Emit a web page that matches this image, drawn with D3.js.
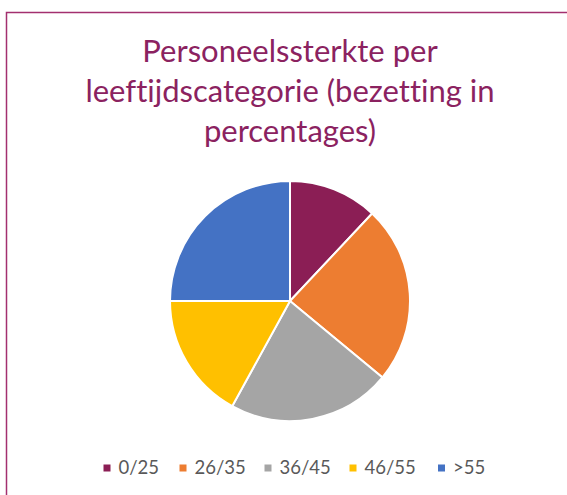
<!DOCTYPE html>
<html><head><meta charset="utf-8">
<script src="https://cdn.jsdelivr.net/npm/d3@7"></script>
<style>body{margin:0;background:#fff;}svg{display:block;}text{font-variant-ligatures:none;font-feature-settings:"liga" 0;}</style>
</head><body>
<script>
const categories = ["0/25","26/35","36/45","46/55",">55"];
const values = [12,24,22,17,25];
const colors = ["#8B1E55","#ED7D31","#A5A5A5","#FFC000","#4472C4"];
const titleLines = ["Personeelssterkte per","leeftijdscategorie (bezetting in","percentages)"];

const W=567,H=495;
const svg=d3.select("body").append("svg").attr("width",W).attr("height",H);
svg.append("rect").attr("x",6.5).attr("y",12.5).attr("width",W+20).attr("height",H+20)
  .attr("fill","#fff").attr("stroke","#A3306F").attr("stroke-width",1.5);

const font="Lato, 'Open Sans', sans-serif";
svg.append("g").selectAll("text").data(titleLines).join("text")
  .attr("x",290).attr("y",(d,i)=>62+i*40)
  .attr("text-anchor","middle").attr("font-family",font).attr("font-size",31)
  .attr("fill","#8B2260").text(d=>d);

const cx=290, cy=301, r=120;
const pie=d3.pie().sort(null).value(d=>d)(values);
const arc=d3.arc().innerRadius(0).outerRadius(r);
const color=d3.scaleOrdinal().domain(categories).range(colors);
svg.append("g").attr("transform",`translate(${cx},${cy})`).selectAll("path").data(pie).join("path")
  .attr("d",arc).attr("fill",(d,i)=>color(categories[i])).attr("stroke","#fff").attr("stroke-width",2);

const legendX=[103.5,179.5,264.5,349.5,438];
const lg=svg.append("g").selectAll("g").data(categories).join("g")
  .attr("transform",(d,i)=>`translate(${legendX[i]},468)`);
lg.append("rect").attr("x",0).attr("y",-3.5).attr("width",7).attr("height",7).attr("fill",d=>color(d));
lg.append("text").attr("x",15).attr("y",0).attr("dy","0.35em").attr("font-family",font)
  .attr("font-size",18.5).attr("fill","#595959").text(d=>d);
</script>
</body></html>
